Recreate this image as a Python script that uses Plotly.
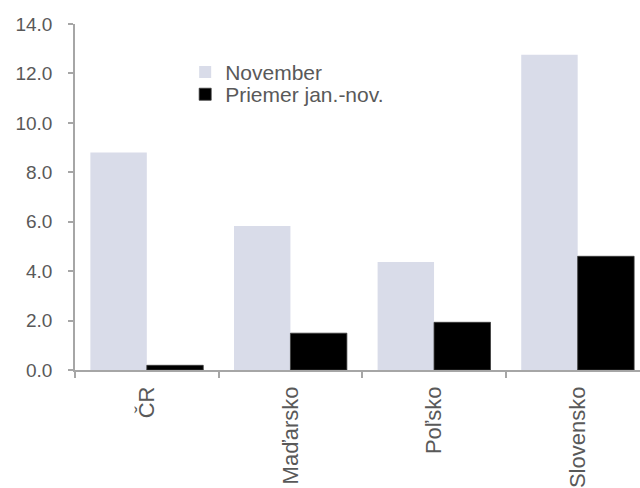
import plotly.graph_objects as go

# Categories and series values
countries = ["ČR", "Maďarsko", "Poľsko", "Slovensko"]
november = [8.8, 5.83, 4.37, 12.76]
avg_jan_nov = [0.19, 1.49, 1.93, 4.6]
series_names = ["November", "Priemer jan.-nov."]
y_ticks = [0, 2, 4, 6, 8, 10, 12, 14]

FONT = "Liberation Sans, Arial, sans-serif"
GREY = "#595959"
AXIS = "#A6A6A6"

fig = go.Figure()
fig.add_trace(go.Bar(
    x=countries, y=november, name=series_names[0],
    marker=dict(color="#D9DCE9", line=dict(width=0)),
    legend="legend",
))
fig.add_trace(go.Bar(
    x=countries, y=avg_jan_nov, name=series_names[1],
    marker=dict(color="#000000", line=dict(color="#3a3a3a", width=0.8)),
    legend="legend2",
))

legend_style = dict(
    xanchor="left", yanchor="middle",
    bgcolor="rgba(0,0,0,0)", font=dict(size=21, color=GREY),
    itemwidth=30, borderwidth=0,
)

fig.update_layout(
    width=640, height=488,
    margin=dict(l=75, r=0, t=24, b=118, pad=0),
    paper_bgcolor="white", plot_bgcolor="white",
    barmode="group", bargap=0.214, bargroupgap=0,
    font=dict(family=FONT, size=18, color=GREY),
    showlegend=True,
    legend=dict(x=0.195, y=0.86, **legend_style),
    legend2=dict(x=0.195, y=0.796, **legend_style),
    xaxis=dict(
        range=[-0.5, 3.434], showgrid=False, zeroline=False,
        showline=True, linecolor=AXIS, linewidth=1.5,
        ticks="outside", tickson="boundaries", ticklen=6,
        tickcolor=AXIS, tickwidth=1.5, tickangle=-90,
        ticklabelstandoff=6,
        tickfont=dict(size=22, color=GREY),
    ),
    yaxis=dict(
        range=[0, 14], tickvals=y_ticks, tickformat=".1f",
        showgrid=False, zeroline=False,
        showline=True, linecolor=AXIS, linewidth=1.5,
        ticks="outside", ticklen=5, tickcolor=AXIS, tickwidth=1.5,
        ticklabelstandoff=12,
        tickfont=dict(size=19, color=GREY),
    ),
)

fig.write_html("out.html")
